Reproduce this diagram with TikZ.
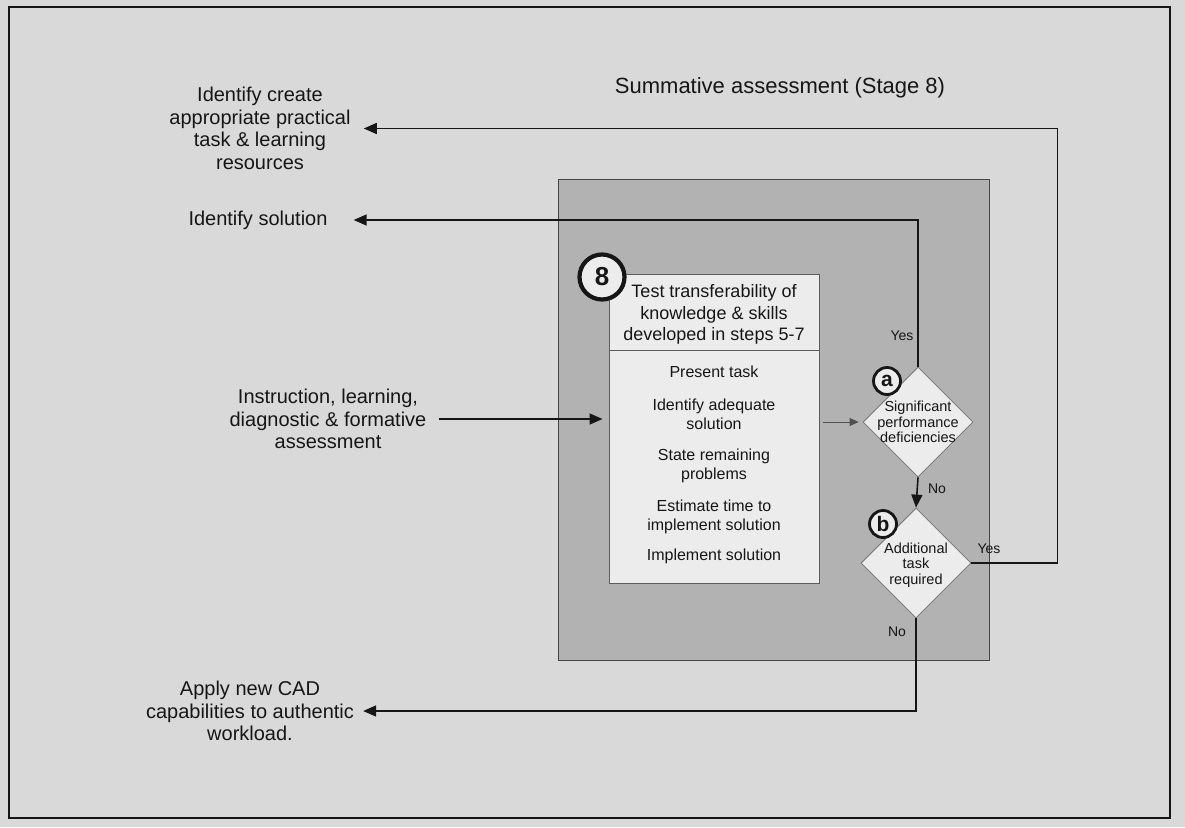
\documentclass[tikz,border=0pt]{standalone}
\usepackage{fontspec}
\setmainfont{Liberation Sans}
\usetikzlibrary{arrows.meta,shapes.geometric}
\definecolor{paper}{HTML}{D9D9D9}
\definecolor{panel}{HTML}{B2B2B2}
\definecolor{card}{HTML}{ECECEC}
\definecolor{ink}{HTML}{161616}
\begin{document}
\begin{tikzpicture}[x=1pt,y=-1pt,
  lbl/.style={font=\fontsize{20}{22.5}\selectfont, align=center, text=ink, inner sep=0pt},
  hdr/.style={font=\fontsize{18}{21.5}\selectfont, align=center, text=ink, inner sep=0pt},
  item/.style={font=\fontsize{16}{19}\selectfont, align=center, text=ink, inner sep=0pt},
  dtext/.style={font=\fontsize{14.5}{15.5}\selectfont, align=center, text=ink, inner sep=0pt},
  yn/.style={font=\fontsize{14}{16}\selectfont, text=ink, inner sep=0pt},
  flow/.style={draw=ink, line width=1.6pt, -{Triangle[length=13pt,width=11pt]}},
  thinflow/.style={draw=ink!75, line width=0.9pt, -{Triangle[length=9pt,width=8pt]}},
  cardbox/.style={rectangle, draw=ink!70, line width=1pt, fill=card,
    minimum width=210pt, minimum height=309pt, inner sep=0pt},
  decision/.style={diamond, draw=ink!60, line width=0.8pt, fill=card,
    minimum width=110pt, minimum height=110pt, inner sep=0pt},
  tag/.style={circle, draw=ink, fill=card, inner sep=0pt, font=\bfseries, text=ink}
]
% page and outer frame
\fill[paper] (0,0) rectangle (1185,827);
\useasboundingbox (0,0) rectangle (1185,827);
\draw[ink, line width=2.2pt] (9,7) rectangle (1170,818);

% shaded stage panel
\draw[fill=panel, draw=ink!80, line width=1pt] (558,179) rectangle (989,660);

% step card with header
\node[cardbox] (box) at (714,428.5) {};
\draw[ink!70, line width=1pt] (609,350) -- (819,350);
\node[hdr] (head) at (714,314.5) {Test transferability of\\knowledge \& skills\\developed in steps 5-7};
\node[item] (s1) at (714,372) {Present task};
\node[item] (s2) at (714,414) {Identify adequate\\solution};
\node[item] (s3) at (714,465.5) {State remaining\\problems};
\node[item] (s4) at (714,516.5) {Estimate time to\\implement solution};
\node[item] (s5) at (714,556) {Implement solution};
\node[tag, minimum size=45pt, line width=4.2pt, font=\fontsize{26}{26}\selectfont\bfseries] (c8) at (602,277) {8};

% decisions
\node[decision] (da) at (918,422) {};
\node[dtext] (dat) at (918,422) {Significant\\performance\\deficiencies};
\node[tag, minimum size=27pt, line width=2.8pt, font=\fontsize{21}{21}\selectfont\bfseries] (ca) at (887,381) {a};

\node[decision] (db) at (916,563) {};
\node[dtext] (dbt) at (916,565) {Additional\\task\\required};
\node[tag, minimum size=27pt, line width=2.8pt, font=\fontsize{21}{21}\selectfont\bfseries] (cb) at (883,524) {b};

% outside labels
\node[lbl, font=\fontsize{22}{24}\selectfont] (title) at (780,88) {Summative assessment (Stage 8)};
\node[lbl] (create) at (260,128.5) {Identify create\\appropriate practical\\task \& learning\\resources};
\node[lbl] (sol) at (258,220) {Identify solution};
\node[lbl] (instr) at (328,419) {Instruction, learning,\\diagnostic \& formative\\assessment};
\node[lbl] (apply) at (250,711) {Apply new CAD\\capabilities to authentic\\workload.};

% yes / no labels
\node[yn] (y1) at (902,336) {Yes};
\node[yn] (n1) at (937,489) {No};
\node[yn] (y2) at (989,549) {Yes};
\node[yn] (n2) at (897,632) {No};

% connectors
\draw[flow, shorten <=12pt, shorten >=6pt] (instr.east) -- (box.west |- instr.east);
\draw[thinflow, shorten <=3pt, shorten >=4pt] (box.east |- da.west) -- (da.west);
\draw[flow] (da.south) -- (db.north);
\draw[flow, shorten >=26pt] (da.north) |- (sol.east);
\draw[flow, shorten >=13pt] (db.east) -- ++(86,0) |- (create.east);
\draw[flow, shorten >=9pt] (db.south) |- (apply.east);
\end{tikzpicture}
\end{document}
